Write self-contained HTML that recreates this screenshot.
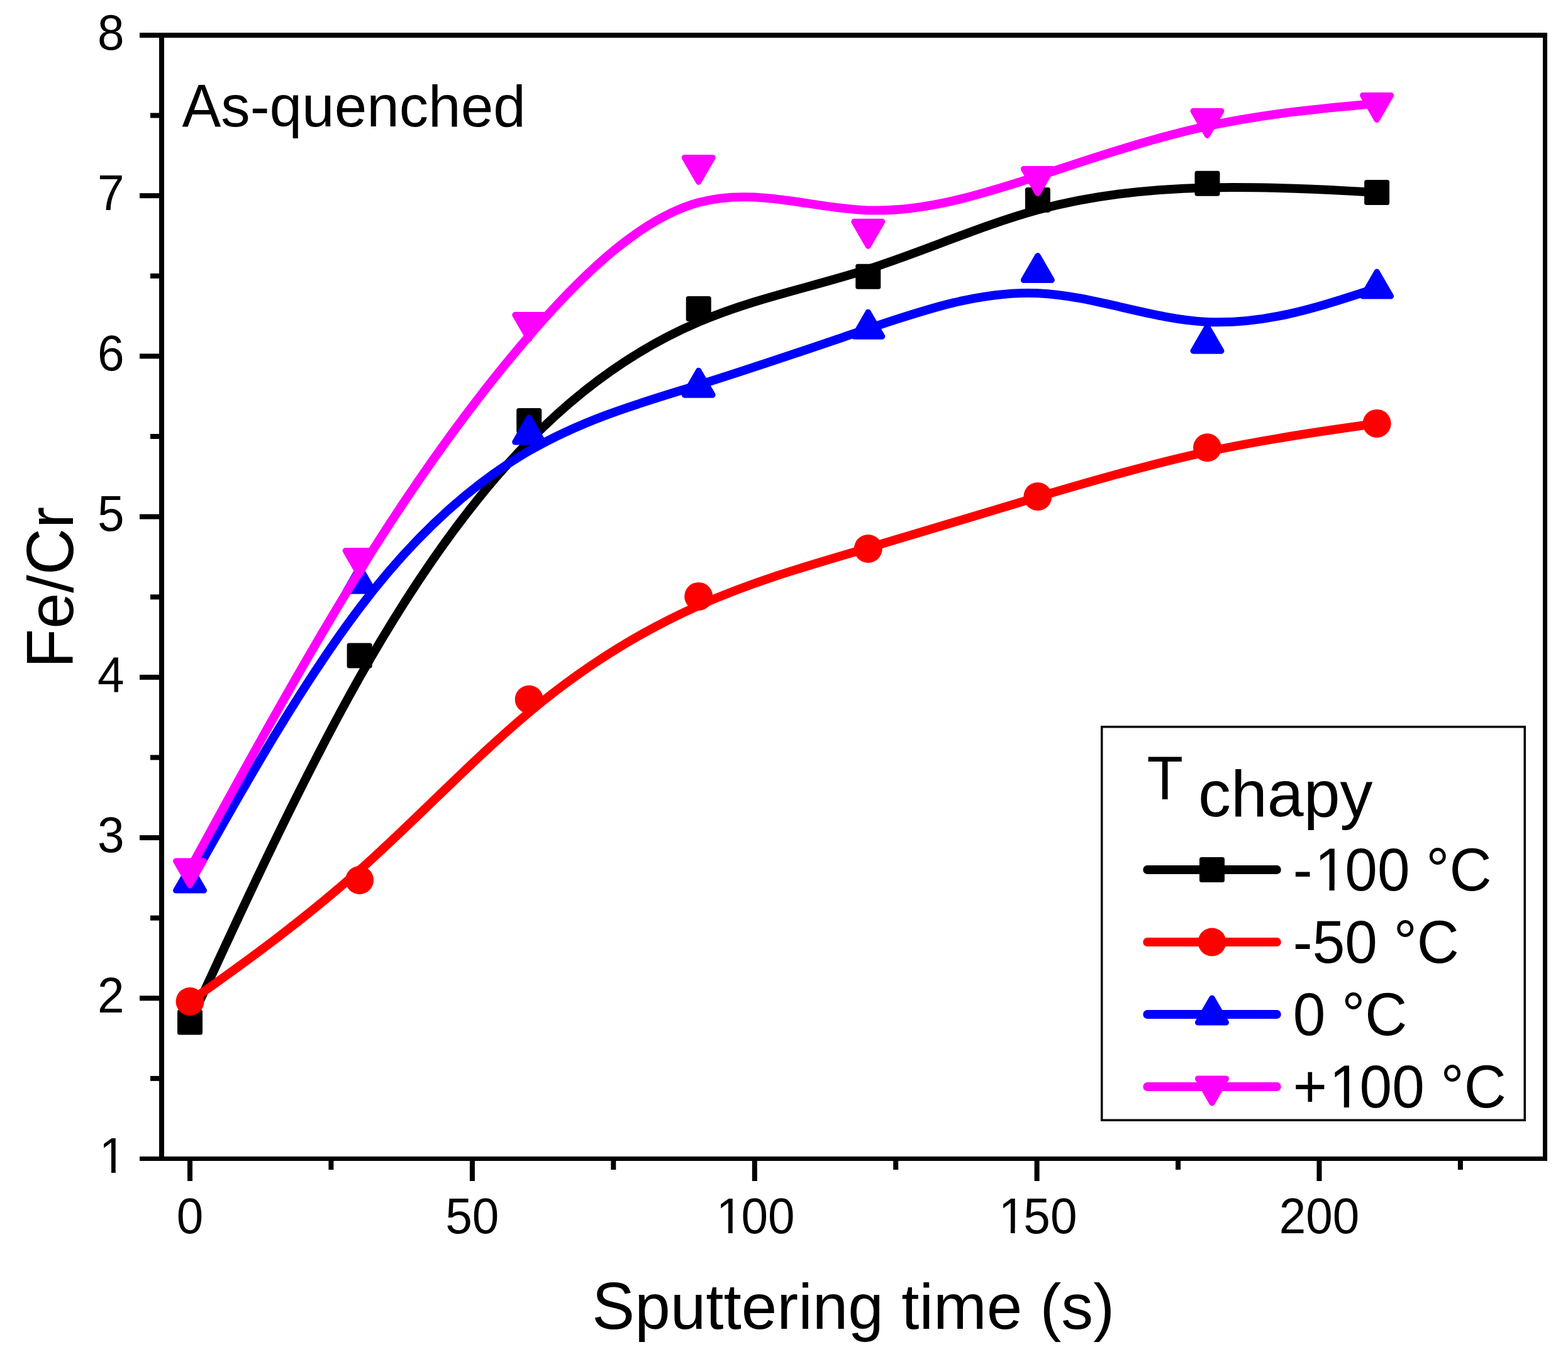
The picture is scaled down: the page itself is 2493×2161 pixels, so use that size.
<!DOCTYPE html><html><head><meta charset="utf-8"><title>Fe/Cr vs sputtering time</title><style>html,body{margin:0;padding:0;background:#fff;width:2493px;height:2161px;overflow:hidden}svg{display:block}text{font-family:"Liberation Sans",Arial,Helvetica,sans-serif;fill:#000}</style></head><body>
<svg width="2493" height="2161" viewBox="0 0 2493 2161">
<rect x="0" y="0" width="2493" height="2161" fill="#fff"/>
<path d="M302.00,1625.40 C302.00,1625.40 302.00,1625.40 346.93,1528.25 C391.86,1431.10 481.72,1236.80 571.58,1077.38 C661.44,917.97 751.30,793.43 841.16,701.52 C931.02,609.60 1020.88,550.30 1110.74,512.12 C1200.60,473.93 1290.46,456.87 1380.32,428.02 C1470.18,399.17 1560.04,358.53 1649.90,333.85 C1739.76,309.17 1829.62,300.43 1919.48,298.45 C2009.34,296.47 2099.20,301.23 2144.13,303.62 C2189.06,306.00 2189.06,306.00 2189.06,306.00" fill="none" stroke="#000000" stroke-width="14" stroke-linejoin="round" stroke-linecap="butt"/>
<rect x="282.0" y="1605.4" width="40" height="40" rx="3.5" fill="#000000"/>
<rect x="551.6" y="1022.5" width="40" height="40" rx="3.5" fill="#000000"/>
<rect x="821.2" y="648.9" width="40" height="40" rx="3.5" fill="#000000"/>
<rect x="1090.7" y="471.0" width="40" height="40" rx="3.5" fill="#000000"/>
<rect x="1360.3" y="419.8" width="40" height="40" rx="3.5" fill="#000000"/>
<rect x="1629.9" y="297.9" width="40" height="40" rx="3.5" fill="#000000"/>
<rect x="1899.5" y="271.7" width="40" height="40" rx="3.5" fill="#000000"/>
<rect x="2169.1" y="286.0" width="40" height="40" rx="3.5" fill="#000000"/>
<path d="M302.00,1592.50 C302.00,1592.50 302.00,1592.50 346.93,1560.33 C391.86,1528.17 481.72,1463.83 571.58,1383.78 C661.44,1303.73 751.30,1207.97 841.16,1132.78 C931.02,1057.60 1020.88,1003.00 1110.74,963.05 C1200.60,923.10 1290.46,897.80 1380.32,871.32 C1470.18,844.83 1560.04,817.17 1649.90,790.38 C1739.76,763.60 1829.62,737.70 1919.48,718.35 C2009.34,699.00 2099.20,686.20 2144.13,679.80 C2189.06,673.40 2189.06,673.40 2189.06,673.40" fill="none" stroke="#ff0000" stroke-width="14" stroke-linejoin="round" stroke-linecap="butt"/>
<circle cx="302.0" cy="1592.5" r="22.5" fill="#ff0000"/>
<circle cx="571.6" cy="1399.5" r="22.5" fill="#ff0000"/>
<circle cx="841.2" cy="1112.2" r="22.5" fill="#ff0000"/>
<circle cx="1110.7" cy="948.4" r="22.5" fill="#ff0000"/>
<circle cx="1380.3" cy="872.5" r="22.5" fill="#ff0000"/>
<circle cx="1649.9" cy="789.5" r="22.5" fill="#ff0000"/>
<circle cx="1919.5" cy="711.8" r="22.5" fill="#ff0000"/>
<circle cx="2189.1" cy="673.4" r="22.5" fill="#ff0000"/>
<path d="M302.00,1403.10 C302.00,1403.10 302.00,1403.10 346.93,1323.77 C391.86,1244.43 481.72,1085.77 571.58,966.92 C661.44,848.07 751.30,769.03 841.16,717.05 C931.02,665.07 1020.88,640.13 1110.74,612.17 C1200.60,584.20 1290.46,553.20 1380.32,522.74 C1470.18,492.28 1560.04,462.37 1649.90,466.20 C1739.76,470.03 1829.62,507.62 1919.48,511.89 C2009.34,516.17 2099.20,487.13 2144.13,472.62 C2189.06,458.10 2189.06,458.10 2189.06,458.10" fill="none" stroke="#0000ff" stroke-width="14" stroke-linejoin="round" stroke-linecap="butt"/>
<polygon points="302.0,1377.2 324.4,1416.0 279.6,1416.0" fill="#0000ff" stroke="#0000ff" stroke-width="9.2" stroke-linejoin="round"/>
<polygon points="571.6,901.2 594.0,940.0 549.2,940.0" fill="#0000ff" stroke="#0000ff" stroke-width="9.2" stroke-linejoin="round"/>
<polygon points="841.2,664.1 863.6,702.9 818.8,702.9" fill="#0000ff" stroke="#0000ff" stroke-width="9.2" stroke-linejoin="round"/>
<polygon points="1110.7,589.3 1133.1,628.1 1088.3,628.1" fill="#0000ff" stroke="#0000ff" stroke-width="9.2" stroke-linejoin="round"/>
<polygon points="1380.3,496.3 1402.7,535.1 1357.9,535.1" fill="#0000ff" stroke="#0000ff" stroke-width="9.2" stroke-linejoin="round"/>
<polygon points="1649.9,406.6 1672.3,445.4 1627.5,445.4" fill="#0000ff" stroke="#0000ff" stroke-width="9.2" stroke-linejoin="round"/>
<polygon points="1919.5,519.3 1941.9,558.1 1897.1,558.1" fill="#0000ff" stroke="#0000ff" stroke-width="9.2" stroke-linejoin="round"/>
<polygon points="2189.1,432.2 2211.5,471.0 2166.7,471.0" fill="#0000ff" stroke="#0000ff" stroke-width="9.2" stroke-linejoin="round"/>
<path d="M302.00,1382.10 C302.00,1382.10 302.00,1382.10 346.93,1299.85 C391.86,1217.60 481.72,1053.10 571.58,908.35 C661.44,763.60 751.30,638.60 841.16,534.40 C931.02,430.20 1020.88,346.80 1110.74,322.09 C1200.60,297.38 1290.46,331.37 1380.32,334.39 C1470.18,337.42 1560.04,309.48 1649.90,280.17 C1739.76,250.85 1829.62,220.15 1919.48,200.64 C2009.34,181.13 2099.20,172.82 2144.13,168.66 C2189.06,164.50 2189.06,164.50 2189.06,164.50" fill="none" stroke="#ff00ff" stroke-width="14" stroke-linejoin="round" stroke-linecap="butt"/>
<polygon points="302.0,1408.0 324.4,1369.2 279.6,1369.2" fill="#ff00ff" stroke="#ff00ff" stroke-width="9.2" stroke-linejoin="round"/>
<polygon points="571.6,914.5 594.0,875.7 549.2,875.7" fill="#ff00ff" stroke="#ff00ff" stroke-width="9.2" stroke-linejoin="round"/>
<polygon points="841.2,539.5 863.6,500.7 818.8,500.7" fill="#ff00ff" stroke="#ff00ff" stroke-width="9.2" stroke-linejoin="round"/>
<polygon points="1110.7,289.3 1133.1,250.5 1088.3,250.5" fill="#ff00ff" stroke="#ff00ff" stroke-width="9.2" stroke-linejoin="round"/>
<polygon points="1380.3,391.2 1402.7,352.4 1357.9,352.4" fill="#ff00ff" stroke="#ff00ff" stroke-width="9.2" stroke-linejoin="round"/>
<polygon points="1649.9,307.4 1672.3,268.6 1627.5,268.6" fill="#ff00ff" stroke="#ff00ff" stroke-width="9.2" stroke-linejoin="round"/>
<polygon points="1919.5,215.3 1941.9,176.5 1897.1,176.5" fill="#ff00ff" stroke="#ff00ff" stroke-width="9.2" stroke-linejoin="round"/>
<polygon points="2189.1,190.4 2211.5,151.6 2166.7,151.6" fill="#ff00ff" stroke="#ff00ff" stroke-width="9.2" stroke-linejoin="round"/>
<g fill="#000">
<rect x="253" y="52" width="8" height="1794"/>
<rect x="2453" y="52" width="7" height="1794"/>
<rect x="222" y="52" width="2238" height="8"/>
<rect x="222" y="1839" width="2238" height="7"/>
<rect x="222" y="1583.3" width="32" height="8"/>
<rect x="222" y="1328.1" width="32" height="8"/>
<rect x="222" y="1072.9" width="32" height="8"/>
<rect x="222" y="817.6" width="32" height="8"/>
<rect x="222" y="562.4" width="32" height="8"/>
<rect x="222" y="307.2" width="32" height="8"/>
<rect x="239" y="1710.9" width="15" height="8"/>
<rect x="239" y="1455.7" width="15" height="8"/>
<rect x="239" y="1200.5" width="15" height="8"/>
<rect x="239" y="945.3" width="15" height="8"/>
<rect x="239" y="690.0" width="15" height="8"/>
<rect x="239" y="434.8" width="15" height="8"/>
<rect x="239" y="179.6" width="15" height="8"/>
<rect x="298.0" y="1845" width="8" height="33"/>
<rect x="746.9" y="1845" width="8" height="33"/>
<rect x="1195.8" y="1845" width="8" height="33"/>
<rect x="1644.6" y="1845" width="8" height="33"/>
<rect x="2093.5" y="1845" width="8" height="33"/>
<rect x="522.4" y="1845" width="8" height="15"/>
<rect x="971.3" y="1845" width="8" height="15"/>
<rect x="1420.2" y="1845" width="8" height="15"/>
<rect x="1869.1" y="1845" width="8" height="15"/>
<rect x="2317.9" y="1845" width="8" height="15"/>
</g>
<text x="154.95" y="0" transform="translate(0,1865.20) scale(1,1.04)" font-size="76.5"><tspan dx="2.83">1</tspan></text><rect x="162.61" y="1857.76" width="14.41" height="8.94" fill="#fff"/><rect x="183.78" y="1857.76" width="13.81" height="8.94" fill="#fff"/>
<text x="154.95" y="0" transform="translate(0,1609.99) scale(1,1.04)" font-size="76.5">2</text>
<text x="154.95" y="0" transform="translate(0,1354.77) scale(1,1.04)" font-size="76.5">3</text>
<text x="154.95" y="0" transform="translate(0,1099.56) scale(1,1.04)" font-size="76.5">4</text>
<text x="154.95" y="0" transform="translate(0,844.34) scale(1,1.04)" font-size="76.5">5</text>
<text x="154.95" y="0" transform="translate(0,589.13) scale(1,1.04)" font-size="76.5">6</text>
<text x="154.95" y="0" transform="translate(0,333.92) scale(1,1.04)" font-size="76.5">7</text>
<text x="154.95" y="0" transform="translate(0,78.70) scale(1,1.04)" font-size="76.5">8</text>
<text x="280.73" y="0" transform="translate(0,1961.00) scale(1,1.04)" font-size="76.5">0</text>
<text x="708.33" y="0" transform="translate(0,1961.00) scale(1,1.04)" font-size="76.5">50</text>
<text x="1135.93" y="0" transform="translate(0,1961.00) scale(1,1.04)" font-size="76.5"><tspan dx="2.83">1</tspan><tspan dx="-2.83">00</tspan></text><rect x="1143.59" y="1953.56" width="14.41" height="8.94" fill="#fff"/><rect x="1164.76" y="1953.56" width="13.81" height="8.94" fill="#fff"/>
<text x="1584.81" y="0" transform="translate(0,1961.00) scale(1,1.04)" font-size="76.5"><tspan dx="2.83">1</tspan><tspan dx="-2.83">50</tspan></text><rect x="1592.46" y="1953.56" width="14.41" height="8.94" fill="#fff"/><rect x="1613.64" y="1953.56" width="13.81" height="8.94" fill="#fff"/>
<text x="2033.68" y="0" transform="translate(0,1961.00) scale(1,1.04)" font-size="76.5">200</text>
<text transform="translate(1356.75,2112.80) translate(-415.42,0) scale(1,1.04)" font-size="101.7">S</text><text transform="translate(1356.75,2112.80) translate(-347.58,0) scale(1,1.0)" font-size="101.7">puttering time (s)</text>
<text transform="translate(115.80,934.20) rotate(-90) translate(-128.25,0) scale(1,1.031)" font-size="102.6">F</text><text transform="translate(115.80,934.20) rotate(-90) translate(-65.58,0) scale(1,1.0)" font-size="102.6">e/</text><text transform="translate(115.80,934.20) rotate(-90) translate(19.99,0) scale(1,1.031)" font-size="102.6">C</text><text transform="translate(115.80,934.20) rotate(-90) translate(94.08,0) scale(1,1.0)" font-size="102.6">r</text>
<text transform="translate(289.50,201.00) translate(0.00,0) scale(1,1.046)" font-size="92.7">A</text><text transform="translate(289.50,201.00) translate(61.83,0) scale(1,1.0)" font-size="92.7">s-quenched</text>
<rect x="1751.75" y="1155.75" width="672.5" height="625.5" fill="none" stroke="#000" stroke-width="3.5"/>
<text transform="translate(1823.5,1270.8) scale(1,1.04)" font-size="94.1" text-anchor="start">T</text>
<text transform="translate(1905.0,1297.6) scale(1,1.0)" font-size="104" text-anchor="start">chapy</text>
<line x1="1824.3" y1="1383" x2="2029.8" y2="1383" stroke="#000000" stroke-width="14" stroke-linecap="round"/>
<rect x="1907.0" y="1363.0" width="40" height="40" rx="3.5" fill="#000000"/>
<text x="2055.80" y="0" transform="translate(0,1416.10) scale(1,1.04)" font-size="92.8">-<tspan dx="3.43">1</tspan><tspan dx="-3.43">00 °C</tspan></text><rect x="2096.21" y="1407.39" width="17.27" height="10.21" fill="#fff"/><rect x="2121.67" y="1407.39" width="16.54" height="10.21" fill="#fff"/>
<line x1="1824.3" y1="1498" x2="2029.8" y2="1498" stroke="#ff0000" stroke-width="14" stroke-linecap="round"/>
<circle cx="1927.0" cy="1498.0" r="22.5" fill="#ff0000"/>
<text x="2055.80" y="0" transform="translate(0,1531.10) scale(1,1.04)" font-size="92.8">-50 °C</text>
<line x1="1824.3" y1="1613" x2="2029.8" y2="1613" stroke="#0000ff" stroke-width="14" stroke-linecap="round"/>
<polygon points="1927.0,1587.1 1949.4,1625.9 1904.6,1625.9" fill="#0000ff" stroke="#0000ff" stroke-width="9.2" stroke-linejoin="round"/>
<text x="2055.80" y="0" transform="translate(0,1646.10) scale(1,1.04)" font-size="92.8">0 °C</text>
<line x1="1824.3" y1="1728" x2="2029.8" y2="1728" stroke="#ff00ff" stroke-width="14" stroke-linecap="round"/>
<polygon points="1927.0,1753.9 1949.4,1715.1 1904.6,1715.1" fill="#ff00ff" stroke="#ff00ff" stroke-width="9.2" stroke-linejoin="round"/>
<text x="2055.80" y="0" transform="translate(0,1761.10) scale(1,1.04)" font-size="92.8">+<tspan dx="3.43">1</tspan><tspan dx="-3.43">00 °C</tspan></text><rect x="2119.50" y="1752.39" width="17.27" height="10.21" fill="#fff"/><rect x="2144.96" y="1752.39" width="16.54" height="10.21" fill="#fff"/>
</svg></body></html>
